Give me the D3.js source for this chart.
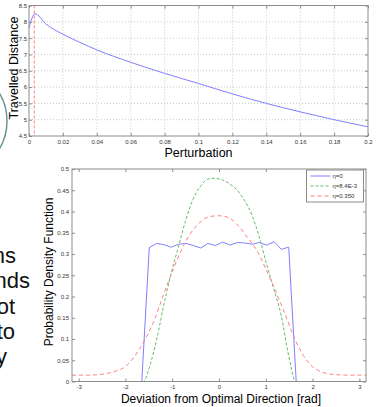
<!DOCTYPE html>
<html>
<head>
<meta charset="utf-8">
<script src="https://cdn.jsdelivr.net/npm/d3@7"></script>
<style>
  body { margin: 0; background: #fff; }
  svg { display: block; font-family: Arial, "Liberation Sans", sans-serif; }
</style>
</head>
<body>
<svg id="chart" width="378" height="407"></svg>
<script>
// top panel: travelled distance vs perturbation
const perturbation = [0, 0.0035, 0.01, 0.02, 0.03, 0.04, 0.06, 0.08, 0.1, 0.12, 0.14, 0.16, 0.18, 0.2];
const travelled = [7.8, 8.25, 7.93, 7.62, 7.37, 7.14, 6.76, 6.42, 6.11, 5.79, 5.5, 5.24, 5.0, 4.78];
const optimalPerturbation = 0.0031;
const perturbationTicks = [0, 0.02, 0.04, 0.06, 0.08, 0.1, 0.12, 0.14, 0.16, 0.18, 0.2];
const distanceTicks = [4.5, 5, 5.5, 6, 6.5, 7, 7.5, 8, 8.5];

// bottom panel: pdf of deviation for three eta values
const etaLabels = ['\u03b7=0', '\u03b7=8.4E-3', '\u03b7=0.350'];
const eta0Angle = [-Math.PI, -1.65, -1.49, -1.33, -1.18, -1.02, -0.86, -0.71, -0.55, -0.39, -0.24, -0.08, 0.08, 0.24, 0.39, 0.55, 0.71, 0.86, 1.02, 1.18, 1.33, 1.49, 1.65, Math.PI];
const eta0Pdf = [0, 0, 0.315, 0.325, 0.322, 0.316, 0.323, 0.325, 0.32, 0.314, 0.325, 0.32, 0.328, 0.321, 0.327, 0.326, 0.323, 0.327, 0.321, 0.329, 0.311, 0.316, 0, 0];
const eta1Angle = [-Math.PI, -1.62, -1.47, -1.33, -1.18, -1.02, -0.86, -0.71, -0.55, -0.39, -0.24, -0.08, 0.08, 0.24, 0.39, 0.55, 0.71, 0.86, 1.02, 1.18, 1.33, 1.49, 1.64, Math.PI];
const eta1Pdf = [0, 0, 0.04, 0.1, 0.18, 0.255, 0.32, 0.38, 0.43, 0.46, 0.476, 0.478, 0.474, 0.464, 0.45, 0.425, 0.39, 0.34, 0.275, 0.215, 0.155, 0.06, 0, 0];
const eta2Angle = [-Math.PI, -2.8, -2.5, -2.2, -2.0, -1.8, -1.6, -1.4, -1.2, -1.0, -0.8, -0.6, -0.4, -0.2, 0, 0.2, 0.4, 0.6, 0.8, 1.0, 1.2, 1.4, 1.6, 1.8, 2.0, 2.2, 2.5, 2.8, Math.PI];
const eta2Pdf = [0.015, 0.015, 0.017, 0.025, 0.035, 0.06, 0.095, 0.14, 0.2, 0.258, 0.31, 0.35, 0.375, 0.388, 0.39, 0.386, 0.368, 0.34, 0.31, 0.265, 0.215, 0.162, 0.105, 0.062, 0.035, 0.022, 0.016, 0.015, 0.015];
const angleTicks = [-3, -2, -1, 0, 1, 2, 3];
const pdfTicks = [0, 0.05, 0.1, 0.15, 0.2, 0.25, 0.3, 0.35, 0.4, 0.45, 0.5];

// cropped slide text on the left
const sideText = ['ns', 'nds', 'ot', 'to', 'y'];

const colors = ['#8080ff', '#66bb66', '#ff7f7f'];
const dashes = [null, '3,2', '4,3'];
const frameColor = '#8c8c8c';
const fmt = d => String(+d.toFixed(3));

const svg = d3.select('#chart');

// left decoration: edge of a circle and cut off words
svg.append('circle')
  .attr('cx', -47).attr('cy', 121).attr('r', 54)
  .attr('fill', 'none').attr('stroke', '#5f8e8e').attr('stroke-width', 1.4);

const sideRight = [16, 30, 15, 15, 7];
svg.append('g').selectAll('text')
  .data(sideText)
  .join('text')
  .attr('x', (d, i) => sideRight[i])
  .attr('y', (d, i) => 263 + i * 25.3)
  .attr('text-anchor', 'end')
  .attr('font-size', 22)
  .attr('fill', '#111')
  .text(d => d);

function styleAxis(g) {
  g.select('.domain').remove();
  g.selectAll('line').attr('stroke', frameColor);
  g.selectAll('text').attr('font-size', 6).attr('fill', '#333');
}

function frame(x, y, xTicks, yTicks, xPad, yPad) {
  const [x0, x1] = x.range();
  const [y0, y1] = y.range();
  svg.append('g').attr('transform', `translate(0,${y0})`)
    .call(d3.axisBottom(x).tickValues(xTicks).tickFormat(fmt).tickSizeInner(-3).tickSizeOuter(0).tickPadding(xPad))
    .call(styleAxis);
  svg.append('g').attr('transform', `translate(0,${y1})`)
    .call(d3.axisTop(x).tickValues(xTicks).tickFormat('').tickSizeInner(-3).tickSizeOuter(0))
    .call(styleAxis);
  svg.append('g').attr('transform', `translate(${x0},0)`)
    .call(d3.axisLeft(y).tickValues(yTicks).tickFormat(fmt).tickSizeInner(-3).tickSizeOuter(0).tickPadding(yPad))
    .call(styleAxis);
  svg.append('g').attr('transform', `translate(${x1},0)`)
    .call(d3.axisRight(y).tickValues(yTicks).tickFormat('').tickSizeInner(-3).tickSizeOuter(0))
    .call(styleAxis);
  svg.append('rect')
    .attr('x', x0).attr('y', y1).attr('width', x1 - x0).attr('height', y0 - y1)
    .attr('fill', 'none').attr('stroke', frameColor).attr('stroke-width', 1);
}

// ---------- top panel ----------
const x1 = d3.scaleLinear().domain([0, 0.2]).range([29, 368]);
const y1 = d3.scaleLinear().domain([4.5, 8.5]).range([136, 5.5]);

const grid = svg.append('g').attr('stroke', '#c8c8c8').attr('stroke-dasharray', '1,2');
grid.selectAll('.gx').data(perturbationTicks.slice(1, -1)).join('line')
  .attr('x1', d => x1(d)).attr('x2', d => x1(d))
  .attr('y1', y1(8.5)).attr('y2', y1(4.5));
grid.selectAll('.gy').data(distanceTicks.slice(1, -1)).join('line')
  .attr('y1', d => y1(d)).attr('y2', d => y1(d))
  .attr('x1', x1(0)).attr('x2', x1(0.2));

svg.append('line')
  .attr('x1', x1(optimalPerturbation)).attr('x2', x1(optimalPerturbation))
  .attr('y1', y1(8.5)).attr('y2', y1(4.5))
  .attr('stroke', '#ff7f7f').attr('stroke-dasharray', '3,2');

svg.append('path')
  .datum(perturbation.map((p, i) => [p, travelled[i]]))
  .attr('fill', 'none').attr('stroke', colors[0]).attr('stroke-width', 1)
  .attr('d', d3.line().x(d => x1(d[0])).y(d => y1(d[1])).curve(d3.curveMonotoneX));

frame(x1, y1, perturbationTicks, distanceTicks, 4, 2);

svg.append('text')
  .attr('x', 198.5).attr('y', 157)
  .attr('text-anchor', 'middle').attr('font-size', 12.5)
  .text('Perturbation');
svg.append('text')
  .attr('transform', 'translate(18,68) rotate(-90)')
  .attr('text-anchor', 'middle').attr('font-size', 12.5)
  .text('Travelled Distance');

// ---------- bottom panel ----------
const x2 = d3.scaleLinear().domain([-Math.PI, Math.PI]).range([72, 366]);
const y2 = d3.scaleLinear().domain([0, 0.5]).range([381.5, 169]);

const series = [
  eta0Angle.map((a, i) => [a, eta0Pdf[i]]),
  eta1Angle.map((a, i) => [a, eta1Pdf[i]]),
  eta2Angle.map((a, i) => [a, eta2Pdf[i]])
];
const line2 = d3.line().x(d => x2(d[0])).y(d => y2(d[1]));

svg.append('g').selectAll('path')
  .data(series)
  .join('path')
  .attr('fill', 'none')
  .attr('stroke', (d, i) => colors[i])
  .attr('stroke-width', 1)
  .attr('stroke-dasharray', (d, i) => dashes[i])
  .attr('d', (d, i) => i === 0 ? line2.curve(d3.curveLinear)(d) : line2.curve(d3.curveMonotoneX)(d));

frame(x2, y2, angleTicks, pdfTicks, 3.5, 3);

svg.append('text')
  .attr('x', 221).attr('y', 403)
  .attr('text-anchor', 'middle').attr('font-size', 12)
  .text('Deviation from Optimal Direction [rad]');
svg.append('text')
  .attr('transform', 'translate(53,272) rotate(-90)')
  .attr('text-anchor', 'middle').attr('font-size', 12)
  .text('Probability Density Function');

// legend
const legend = svg.append('g').attr('transform', 'translate(306.5,170)');
legend.append('rect')
  .attr('width', 57).attr('height', 32)
  .attr('fill', '#fff').attr('stroke', frameColor);
const item = legend.selectAll('g').data(etaLabels).join('g')
  .attr('transform', (d, i) => `translate(0,${6 + i * 10})`);
item.append('line')
  .attr('x1', 4).attr('x2', 24)
  .attr('stroke', (d, i) => colors[i])
  .attr('stroke-dasharray', (d, i) => dashes[i]);
item.append('text')
  .attr('x', 26).attr('dy', '0.35em')
  .attr('font-size', 6).attr('fill', '#333')
  .text(d => d);
</script>
</body>
</html>
